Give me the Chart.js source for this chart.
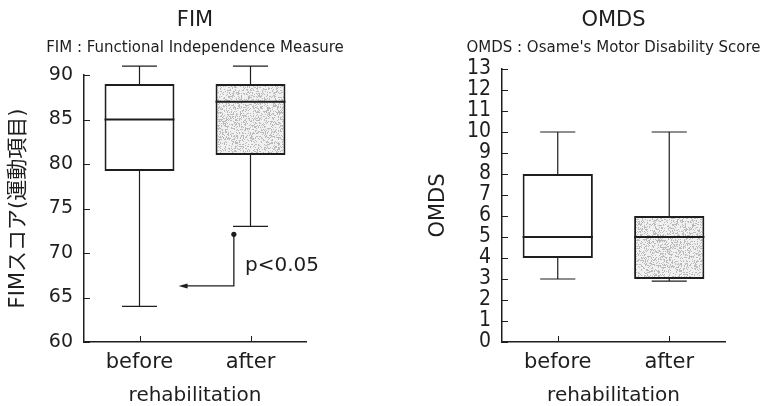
<!DOCTYPE html>
<html>
<head>
<meta charset="utf-8">
<script src="https://cdn.jsdelivr.net/npm/chart.js@4.4.0/dist/chart.umd.min.js"></script>
<style>
body { margin: 0; background: #fff; }
#wrap { position: relative; width: 760px; height: 406px; }
.panel { position: absolute; top: 0; width: 380px; height: 406px; }
</style>
</head>
<body>
<div id="wrap">
  <div class="panel" style="left:0"><canvas id="fimChart" width="380" height="406"></canvas></div>
  <div class="panel" style="left:380px"><canvas id="omdsChart" width="380" height="406"></canvas></div>
</div>
<script>
const categories = ["before", "after"];

// FIM box plot values
const fimMin = [64, 73];
const fimQ1 = [79.2, 81];
const fimMedian = [85, 87];
const fimQ3 = [89, 89];
const fimMax = [91, 91];
const fimTicks = [60, 65, 70, 75, 80, 85, 90];

// OMDS box plot values
const omdsMin = [3, 2.9];
const omdsQ1 = [4, 3];
const omdsMedian = [5, 5];
const omdsQ3 = [8, 6];
const omdsMax = [10, 10];
const omdsTicks = [0, 1, 2, 3, 4, 5, 6, 7, 8, 9, 10, 11, 12, 13];

// significance bracket (x as category index, y as FIM value)
const sigX = [0.85, 0.37];
const sigY = [72.1, 66.3];
const sigText = "p<0.05";
const sigTextPos = [0.95, 68.6];

const FONT = "'DejaVu Sans', 'Noto Sans CJK JP', sans-serif";
const NARROW = "'DejaVu Sans Condensed', 'DejaVu Sans', sans-serif";
const INK = "#1e1e1e";

Chart.defaults.font.family = FONT;
Chart.defaults.color = INK;

// stippled grey fill like the scanned "after" boxes
function makeStipple() {
    const c = document.createElement("canvas");
    c.width = 64; c.height = 64;
    const g = c.getContext("2d");
    g.fillStyle = "#f0f0f0";
    g.fillRect(0, 0, 64, 64);
    g.fillStyle = "#bababa";
    for (let i = 0; i < 64; i++) {
        for (let j = 0; j < 64; j++) {
            const h = (i * 73856093 ^ j * 19349663 ^ (i * j) * 83492791) >>> 0;
            if (h % 100 < 30) g.fillRect(i, j, 1, 1);
        }
    }
    return g.createPattern(c, "repeat");
}
const stipple = makeStipple();

// whiskers, caps and median lines drawn through the chart scales
const boxWhiskers = {
    id: "boxWhiskers",
    afterDatasetsDraw(chart, args, opts) {
        const { ctx, scales: { y } } = chart;
        const meta = chart.getDatasetMeta(0);
        ctx.save();
        ctx.strokeStyle = INK;
        meta.data.forEach((bar, i) => {
            const cx = bar.x;
            const half = bar.width / 2;
            const cap = half / 2;
            const yMin = y.getPixelForValue(opts.min[i]);
            const yQ1 = y.getPixelForValue(opts.q1[i]);
            const yQ3 = y.getPixelForValue(opts.q3[i]);
            const yMax = y.getPixelForValue(opts.max[i]);
            const yMed = y.getPixelForValue(opts.median[i]);
            ctx.lineWidth = 1.2;
            ctx.beginPath();
            ctx.moveTo(cx, yQ3); ctx.lineTo(cx, yMax);
            ctx.moveTo(cx - cap, yMax); ctx.lineTo(cx + cap, yMax);
            ctx.moveTo(cx, yQ1); ctx.lineTo(cx, yMin);
            ctx.moveTo(cx - cap, yMin); ctx.lineTo(cx + cap, yMin);
            ctx.stroke();
            ctx.lineWidth = 2;
            ctx.beginPath();
            ctx.moveTo(cx - half, yMed); ctx.lineTo(cx + half, yMed);
            ctx.stroke();
        });
        ctx.restore();
    }
};

// small ticks pointing into the plot
const innerTicks = {
    id: "innerTicks",
    afterDraw(chart) {
        const { ctx, chartArea, scales: { x, y } } = chart;
        ctx.save();
        ctx.strokeStyle = INK;
        ctx.lineWidth = 1;
        ctx.beginPath();
        y.ticks.forEach((t, i) => {
            const py = Math.round(y.getPixelForTick(i)) + 0.5;
            ctx.moveTo(chartArea.left, py); ctx.lineTo(chartArea.left + 6, py);
        });
        x.ticks.forEach((t, i) => {
            const px = Math.round(x.getPixelForTick(i)) + 0.5;
            ctx.moveTo(px, chartArea.bottom); ctx.lineTo(px, chartArea.bottom - 6);
        });
        ctx.stroke();
        ctx.restore();
    }
};

// title + subtitle centred over the plot area
const panelTitle = {
    id: "panelTitle",
    afterDraw(chart, args, opts) {
        const { ctx, chartArea } = chart;
        const cx = (chartArea.left + chartArea.right) / 2;
        ctx.save();
        ctx.fillStyle = INK;
        ctx.textAlign = "center";
        ctx.textBaseline = "middle";
        ctx.font = "21px " + FONT;
        ctx.fillText(opts.title, cx, 21);
        ctx.font = "15px " + FONT;
        ctx.fillText(opts.subtitle, cx, 48);
        ctx.restore();
    }
};

// p<0.05 bracket with arrow
const sigBracket = {
    id: "sigBracket",
    afterDraw(chart, args, opts) {
        if (!opts.show) return;
        const { ctx, scales: { x, y } } = chart;
        const x0 = x.getPixelForValue(sigX[0]);
        const x1 = x.getPixelForValue(sigX[1]);
        const y0 = y.getPixelForValue(sigY[0]);
        const y1 = y.getPixelForValue(sigY[1]);
        ctx.save();
        ctx.strokeStyle = INK;
        ctx.fillStyle = INK;
        ctx.lineWidth = 1.3;
        ctx.beginPath();
        ctx.moveTo(x0, y0); ctx.lineTo(x0, y1); ctx.lineTo(x1 + 4, y1);
        ctx.stroke();
        ctx.beginPath();
        ctx.arc(x0, y0, 2.6, 0, Math.PI * 2);
        ctx.fill();
        ctx.beginPath();
        ctx.moveTo(x1 - 2, y1); ctx.lineTo(x1 + 7, y1 - 2.5); ctx.lineTo(x1 + 7, y1 + 2.5);
        ctx.closePath();
        ctx.fill();
        ctx.font = "20px " + FONT;
        ctx.textAlign = "left";
        ctx.textBaseline = "middle";
        ctx.fillText(sigText, x.getPixelForValue(sigTextPos[0]), y.getPixelForValue(sigTextPos[1]));
        ctx.restore();
    }
};

function makeBoxChart(id, stats, ticks, yTitle, yWidth, yTitlePad, pad, titles, tickFont, showSig) {
    const ctx = document.getElementById(id).getContext("2d");
    return new Chart(ctx, {
        type: "bar",
        data: {
            labels: categories,
            datasets: [{
                data: categories.map((c, i) => [stats.q1[i], stats.q3[i]]),
                backgroundColor: ["#ffffff", stipple],
                borderColor: INK,
                borderWidth: 2,
                borderSkipped: false,
                categoryPercentage: 1,
                barPercentage: 0.63
            }]
        },
        options: {
            responsive: false,
            devicePixelRatio: 1,
            animation: false,
            layout: { padding: pad },
            plugins: {
                legend: { display: false },
                tooltip: { enabled: false },
                boxWhiskers: stats,
                panelTitle: titles,
                sigBracket: { show: showSig }
            },
            scales: {
                x: {
                    offset: true,
                    grid: { display: false, drawTicks: false },
                    border: { display: true, color: INK, width: 1.5 },
                    ticks: { padding: 8, font: { size: 21 }, color: INK },
                    title: { display: true, text: "rehabilitation", font: { size: 20 }, color: INK, padding: { top: 0, bottom: -2 } },
                    afterFit: (s) => { s.height = 64; }
                },
                y: {
                    min: ticks[0],
                    max: ticks[ticks.length - 1],
                    afterBuildTicks: (s) => { s.ticks = ticks.map(v => ({ value: v })); },
                    grid: { display: false, drawTicks: false },
                    border: { display: true, color: INK, width: 1.5 },
                    ticks: { padding: 11, font: tickFont, color: INK, autoSkip: false },
                    title: { display: true, text: yTitle, font: { size: 21 }, color: INK, padding: { top: yTitlePad, bottom: 0 } },
                    afterFit: (s) => { s.width = yWidth; }
                }
            }
        },
        plugins: [boxWhiskers, innerTicks, panelTitle, sigBracket]
    });
}

makeBoxChart("fimChart",
    { min: fimMin, q1: fimQ1, median: fimMedian, q3: fimQ3, max: fimMax },
    fimTicks, "FIMスコア(運動項目)", 84, 6,
    { top: 75, right: 74, bottom: 0, left: 0 },
    { title: "FIM", subtitle: "FIM : Functional Independence Measure" },
    { size: 19 }, true);

makeBoxChart("omdsChart",
    { min: omdsMin, q1: omdsQ1, median: omdsMedian, q3: omdsQ3, max: omdsMax },
    omdsTicks, "OMDS", 122, 46,
    { top: 69, right: 35, bottom: 0, left: 0 },
    { title: "OMDS", subtitle: "OMDS : Osame's Motor Disability Score" },
    { size: 21, family: NARROW }, false);
</script>
</body>
</html>
